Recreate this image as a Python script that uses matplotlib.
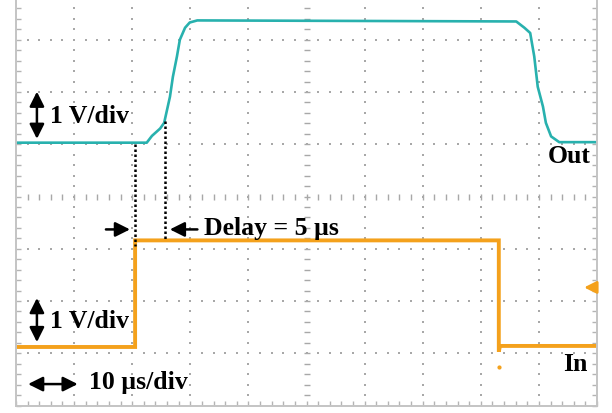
'''Oscilloscope capture of the input step and the delayed output, 10 us/div and 1 V/div.
Time is in microseconds, vertical values are in screen divisions (centre line = 0).'''
import matplotlib.pyplot as plt
from matplotlib.ticker import MultipleLocator

'''Output trace read off the screen'''
out_time = [0, 22.5, 23.4, 24.8, 25.5, 25.9, 26.5, 27.0, 27.7, 28.2, 29.1, 29.9, 31.2,
            86.1, 87.5, 88.5, 89.2, 89.8, 90.7, 91.2, 92.1, 93.5, 100]
out_level = [1.03, 1.03, 1.16, 1.30, 1.41, 1.61, 1.91, 2.29, 2.68, 3.00, 3.23, 3.33, 3.37,
             3.35, 3.23, 3.13, 2.68, 2.10, 1.72, 1.41, 1.15, 1.04, 1.04]

'''Input trace read off the screen'''
in_time = [0, 20.5, 20.5, 83.1, 83.1, 83.3, 100]
in_level = [-2.88, -2.88, -0.84, -0.84, -2.97, -2.86, -2.86]

'''Points where the delay is measured'''
delay_start = 20.5
delay_end = 25.6
delay_text = "Delay = 5 µs"

teal = '#28b1ae'
orange = '#f4a11c'
grid_grey = '#a8a8a8'
font = dict(family=['Liberation Serif', 'DejaVu Serif'], weight='bold', size=18.5)

fig = plt.figure(figsize=(6.12, 4.13), dpi=100)
'''The top of the screen is cut off in the capture, so the axes run past the figure top'''
ax = fig.add_axes([16 / 612, 7.5 / 413, 581 / 612, 418 / 413])
ax.set_xlim(0, 100)
ax.set_ylim(-4, 4)

for side in ax.spines.values():
	side.set_color('#c4c4c4')
	side.set_linewidth(1.4)
ax.xaxis.set_major_locator(MultipleLocator(10))
ax.xaxis.set_minor_locator(MultipleLocator(2))
ax.yaxis.set_major_locator(MultipleLocator(1))
ax.yaxis.set_minor_locator(MultipleLocator(0.2))
ax.tick_params(which='both', direction='in', length=3.5, width=1, color='#b4b4b4',
	top=True, right=True, labelleft=False, labelbottom=False)

'''Dotted graticule: one dot per minor step along every major line'''
minor_t = [2 * i for i in range(1, 50)]
minor_y = [-4 + 0.2 * i for i in range(1, 40)]
for t in range(10, 100, 10):
	if t == 50:
		ax.plot([t] * len(minor_y), minor_y, ls='none', marker='_', ms=4, mew=1, color=grid_grey)
	else:
		ax.plot([t] * len(minor_y), minor_y, ls='none', marker='s', ms=1.5, mew=0, color=grid_grey)
for y in range(-3, 4):
	if y == 0:
		ax.plot(minor_t, [y] * len(minor_t), ls='none', marker='|', ms=5, mew=1, color=grid_grey)
	else:
		ax.plot(minor_t, [y] * len(minor_t), ls='none', marker='s', ms=1.5, mew=0, color=grid_grey)

'''Traces'''
ax.plot(out_time, out_level, color=teal, lw=1.9, solid_joinstyle='round')
ax.plot(in_time, in_level, color=orange, lw=2.8, solid_joinstyle='miter')
ax.plot([83.1], [-3.27], ls='none', marker='o', ms=2, color=orange)

'''Delay markers'''
ax.plot([delay_start, delay_start], [1.0, -0.95], color='black', ls=(0, (1, 1)), lw=1.8)
ax.plot([delay_end, delay_end], [1.44, -0.82], color='black', ls=(0, (1, 1)), lw=1.8)
arrow = dict(arrowstyle='-|>', color='black', lw=1.8, mutation_scale=22)
ax.annotate('', xy=(20.1, -0.63), xytext=(15.0, -0.63), arrowprops=arrow)
ax.annotate('', xy=(26.0, -0.63), xytext=(31.7, -0.63), arrowprops=arrow)
ax.text(32.4, -0.74, delay_text, va='baseline', ha='left', **font)

'''Scale labels'''
double = dict(arrowstyle='<|-|>', color='black', lw=1.8, mutation_scale=22)
ax.annotate('', xy=(3.6, 2.06), xytext=(3.6, 1.05), arrowprops=double)
ax.text(5.8, 1.41, "1 V/div", va='baseline', ha='left', **font)
ax.annotate('', xy=(3.6, -1.89), xytext=(3.6, -2.84), arrowprops=double)
ax.text(5.8, -2.52, "1 V/div", va='baseline', ha='left', **font)
ax.annotate('', xy=(1.6, -3.59), xytext=(11.1, -3.59), arrowprops=double)
ax.text(12.6, -3.68, "10 µs/div", va='baseline', ha='left', **font)

ax.text(91.6, 0.65, "Out", va='baseline', ha='left', **font)
ax.text(94.1, -3.34, "In", va='baseline', ha='left', **font)

'''Trigger level marker on the right edge'''
ax.annotate('', xy=(97.3, -1.74), xytext=(100, -1.74),
	arrowprops=dict(arrowstyle='-|>', color=orange, lw=2, mutation_scale=18))

fig.savefig('out.png', dpi=100)
